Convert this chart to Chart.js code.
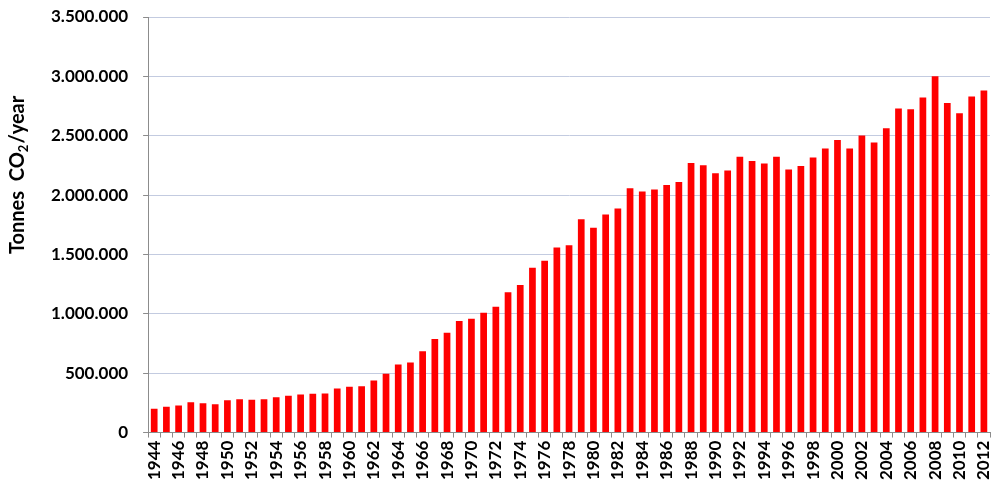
<!DOCTYPE html>
<html>
<head>
<meta charset="utf-8">
<script src="https://cdn.jsdelivr.net/npm/chart.js@4"></script>
<style>
    html, body { margin: 0; padding: 0; background: #fff; }
    #wrap { width: 999px; height: 495px; }
</style>
</head>
<body>
<div id="wrap"><canvas id="co2Chart"></canvas></div>
<script>
// ── Data ──
const years = [
    '1944', '1945', '1946', '1947', '1948', '1949', '1950', '1951', '1952', '1953',
    '1954', '1955', '1956', '1957', '1958', '1959', '1960', '1961', '1962', '1963',
    '1964', '1965', '1966', '1967', '1968', '1969', '1970', '1971', '1972', '1973',
    '1974', '1975', '1976', '1977', '1978', '1979', '1980', '1981', '1982', '1983',
    '1984', '1985', '1986', '1987', '1988', '1989', '1990', '1991', '1992', '1993',
    '1994', '1995', '1996', '1997', '1998', '1999', '2000', '2001', '2002', '2003',
    '2004', '2005', '2006', '2007', '2008', '2009', '2010', '2011', '2012'
];

const emissions = [
    200000, 217000, 228000, 256000, 247000, 239000, 273000, 281000, 276000, 281000,
    298000, 309000, 320000, 326000, 329000, 371000, 385000, 390000, 438000, 495000,
    573000, 590000, 685000, 787000, 841000, 939000, 959000, 1009000, 1060000, 1181000,
    1242000, 1389000, 1448000, 1558000, 1577000, 1796000, 1726000, 1836000, 1887000, 2058000,
    2030000, 2047000, 2086000, 2111000, 2271000, 2252000, 2184000, 2207000, 2322000, 2288000,
    2266000, 2322000, 2215000, 2246000, 2317000, 2393000, 2463000, 2393000, 2502000, 2443000,
    2564000, 2730000, 2724000, 2823000, 3002000, 2775000, 2690000, 2831000, 2882000
];

const yTicks = [0, 500000, 1000000, 1500000, 2000000, 2500000, 3000000, 3500000];

// ── Helpers ──
function dotThousands(v) {
    return String(v).replace(/\B(?=(\d{3})+(?!\d))/g, '.');
}

// Y axis title with a real subscript "2"
const yTitlePlugin = {
    id: 'yTitle',
    afterDraw(chart) {
        const { ctx, chartArea } = chart;
        const cy = chartArea.top + (chartArea.bottom - chartArea.top) * 0.38;
        const big = 'bold 20px Lato';
        const small = 'bold 13px Lato';

        ctx.save();
        ctx.translate(18, cy);
        ctx.rotate(-Math.PI / 2);
        ctx.fillStyle = '#000';
        ctx.textBaseline = 'middle';

        ctx.font = big;
        const w1 = ctx.measureText('Tonnes  CO').width;
        const w3 = ctx.measureText('/year').width;
        ctx.font = small;
        const w2 = ctx.measureText('2').width + 1;
        let x = -(w1 + w2 + w3) / 2;

        ctx.font = big;
        ctx.fillText('Tonnes  CO', x, 0);
        x += w1;
        ctx.font = small;
        ctx.fillText('2', x, 6);
        x += w2;
        ctx.font = big;
        ctx.fillText('/year', x, 0);
        ctx.restore();
    }
};

// ── Chart ──
const ctx = document.getElementById('co2Chart').getContext('2d');

new Chart(ctx, {
    type: 'bar',
    data: {
        labels: years,
        datasets: [{
            data: emissions,
            backgroundColor: '#ff0000',
            borderWidth: 0,
            barPercentage: 0.55,
            categoryPercentage: 1.0
        }]
    },
    options: {
        responsive: true,
        maintainAspectRatio: false,
        animation: false,
        layout: { padding: { left: 36, right: 9, top: 17, bottom: 12 } },
        plugins: {
            legend: { display: false },
            tooltip: { enabled: false }
        },
        scales: {
            x: {
                offset: true,
                // don't reserve extra room on the right for the last rotated label
                afterFit: axis => { axis.paddingRight = 0; axis.paddingLeft = 0; },
                grid: {
                    offset: true,
                    drawOnChartArea: false,
                    color: '#8c8c8c',
                    tickLength: 5
                },
                border: { color: '#8c8c8c' },
                ticks: {
                    autoSkip: false,
                    minRotation: 90,
                    maxRotation: 90,
                    padding: 3,
                    color: '#000',
                    font: { family: 'Lato', size: 17, weight: 'bold' },
                    callback: (val, i) => (i % 2 === 0 ? years[i] : '')
                }
            },
            y: {
                min: 0,
                max: 3500000,
                afterBuildTicks: axis => {
                    axis.ticks = yTicks.map(v => ({ value: v }));
                },
                afterFit: axis => { axis.paddingTop = 0; axis.paddingBottom = 0; },
                grid: {
                    color: '#c3cbe0',
                    tickColor: '#8c8c8c',
                    tickLength: 5
                },
                border: { color: '#8c8c8c' },
                ticks: {
                    padding: 15,
                    color: '#000',
                    font: { family: 'Lato', size: 17, weight: 'bold' },
                    callback: val => dotThousands(val)
                }
            }
        }
    },
    plugins: [yTitlePlugin]
});
</script>
</body>
</html>
